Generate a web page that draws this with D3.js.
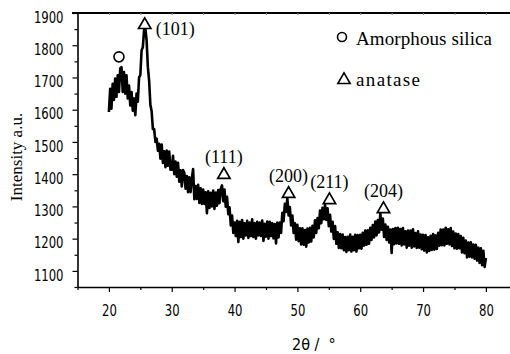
<!DOCTYPE html>
<html>
<head>
<meta charset="utf-8">
<script src="https://cdn.jsdelivr.net/npm/d3@7"></script>
<style>
  body { margin: 0; background: #fff; }
  svg { display: block; }
</style>
</head>
<body>
<svg id="chart" width="510" height="354"></svg>
<script>
// XRD scan: start angle and step (degrees 2θ)
const scanStart = 20;
const scanStep = 0.2;

// Measured intensity (a.u.), one value per step from 20.0° to 80.0°
const intensity = [
  1593, 1665, 1603, 1680, 1630, 1697, 1640, 1707, 1655, 1728,
  1732, 1655, 1717, 1650, 1707, 1635, 1675, 1613, 1655, 1597,
  1635, 1583, 1650, 1625, 1700, 1707, 1784, 1794, 1847, 1853,
  1815, 1732, 1690, 1615, 1595, 1540, 1540, 1500, 1510, 1473,
  1494, 1448, 1492, 1435, 1471, 1422, 1473, 1426, 1470, 1414,
  1414, 1457, 1400, 1439, 1392, 1435, 1377, 1412, 1362, 1413,
  1404, 1355, 1394, 1344, 1390, 1344, 1386, 1416, 1322, 1363,
  1323, 1367, 1311, 1356, 1308, 1352, 1308, 1344, 1279, 1347,
  1295, 1342, 1300, 1349, 1292, 1343, 1302, 1351, 1310, 1354,
  1365, 1316, 1352, 1299, 1330, 1276, 1297, 1241, 1272, 1218,
  1250, 1208, 1255, 1190, 1252, 1205, 1258, 1200, 1248, 1210,
  1255, 1202, 1250, 1208, 1260, 1205, 1248, 1200, 1252, 1210,
  1250, 1208, 1256, 1193, 1246, 1206, 1253, 1200, 1252, 1208,
  1248, 1201, 1245, 1185, 1250, 1204, 1250, 1218, 1280, 1254,
  1308, 1283, 1325, 1272, 1298, 1241, 1272, 1218, 1248, 1197,
  1243, 1192, 1232, 1182, 1232, 1181, 1227, 1175, 1231, 1188,
  1234, 1191, 1240, 1204, 1257, 1218, 1264, 1232, 1287, 1248,
  1296, 1260, 1305, 1258, 1294, 1239, 1274, 1222, 1252, 1199,
  1239, 1184, 1220, 1171, 1214, 1170, 1213, 1164, 1205, 1159,
  1206, 1164, 1213, 1160, 1206, 1164, 1212, 1160, 1211, 1170,
  1212, 1169, 1218, 1178, 1225, 1181, 1226, 1184, 1234, 1196,
  1242, 1204, 1253, 1210, 1258, 1219, 1280, 1228, 1262, 1205,
  1244, 1196, 1237, 1188, 1228, 1156, 1230, 1183, 1233, 1185,
  1234, 1184, 1230, 1179, 1233, 1182, 1223, 1172, 1225, 1178,
  1225, 1172, 1229, 1176, 1217, 1171, 1223, 1172, 1213, 1167,
  1212, 1163, 1211, 1157, 1204, 1162, 1209, 1165, 1214, 1166,
  1210, 1168, 1218, 1178, 1228, 1180, 1228, 1179, 1234, 1184,
  1229, 1182, 1233, 1177, 1222, 1170, 1216, 1169, 1214, 1170,
  1208, 1157, 1203, 1155, 1194, 1142, 1188, 1144, 1189, 1142,
  1182, 1138, 1181, 1132, 1172, 1125, 1170, 1118, 1162, 1112,
  1140
];

// Axis ticks
const xTicks = [20, 30, 40, 50, 60, 70, 80];
const xMinorTicks = [15, 25, 35, 45, 55, 65, 75, 85];
const yTicks = [1100, 1200, 1300, 1400, 1500, 1600, 1700, 1800, 1900];
const yMinorTicks = [1050, 1150, 1250, 1350, 1450, 1550, 1650, 1750, 1850];

// Anatase reflections: Miller indices, peak angle and marker level
const anataseLabels = ["(101)", "(111)", "(200)", "(211)", "(204)"];
const anataseAngles = [25.7, 38.3, 48.6, 55.1, 63.7];
const anataseMarkerLevels = [1866, 1401, 1342, 1323, 1295];

// Amorphous silica hump marker
const silicaAngle = [21.6];
const silicaMarkerLevel = [1764];

// Legend entries
const legendLabels = ["Amorphous silica", "anatase"];

const svg = d3.select("#chart");
const x = d3.scaleLinear().domain([15, 85]).range([77.5, 517.3]);
const y = d3.scaleLinear().domain([1050, 1900]).range([287, 13]);

const tickFont = "'Liberation Sans Narrow', 'DejaVu Sans Condensed', Arial, sans-serif";
const serif = "'Liberation Serif', 'Times New Roman', serif";
const fmt = d3.format("d");

// Frame: top border with small inward ticks
svg.append("line")
  .attr("x1", 72).attr("x2", 510).attr("y1", 13).attr("y2", 13)
  .attr("stroke", "#000").attr("stroke-width", 2);
const topAxis = svg.append("g").attr("transform", "translate(0,13)")
  .call(d3.axisTop(x).tickValues(d3.merge([xTicks, xMinorTicks.slice(1, -1)])).tickSize(-2).tickSizeOuter(0).tickFormat(""));
topAxis.select(".domain").remove();
topAxis.selectAll("line").attr("stroke", "#888").attr("stroke-width", 1);

// Bottom axis
const xAxis = svg.append("g").attr("transform", "translate(0,287)")
  .call(d3.axisBottom(x).tickValues(xTicks).tickFormat(fmt).tickSize(5).tickSizeOuter(0).tickPadding(13));
xAxis.select(".domain").attr("stroke-width", 1.6);
svg.append("g").attr("transform", "translate(0,287)")
  .call(d3.axisBottom(x).tickValues(xMinorTicks).tickSize(3).tickSizeOuter(0).tickFormat(""))
  .select(".domain").remove();

// Left axis
const yAxis = svg.append("g").attr("transform", "translate(77.5,0)")
  .call(d3.axisLeft(y).tickValues(yTicks).tickFormat(fmt).tickSize(5).tickSizeOuter(0).tickPadding(9));
yAxis.select(".domain").attr("stroke-width", 1.6);
yAxis.selectAll(".tick text").attr("y", 4);
svg.append("g").attr("transform", "translate(77.5,0)")
  .call(d3.axisLeft(y).tickValues(yMinorTicks).tickSize(3).tickSizeOuter(0).tickFormat(""))
  .select(".domain").remove();

svg.selectAll(".tick line").attr("stroke-width", 1.2);
svg.selectAll(".tick text")
  .attr("font-family", tickFont).attr("font-size", 16).attr("fill", "#000")
  .attr("textLength", function () { return this.textContent.length * 7.4; })
  .attr("lengthAdjust", "spacingAndGlyphs");

// Axis titles
svg.append("text")
  .attr("transform", "translate(22,157) rotate(-90)")
  .attr("text-anchor", "middle")
  .attr("font-family", serif).attr("font-size", 17)
  .text("Intensity a.u.");
svg.append("text")
  .attr("x", 292).attr("y", 350)
  .attr("font-family", tickFont).attr("font-size", 16)
  .attr("xml:space", "preserve")
  .text("2θ /  °");

// Diffraction pattern
const points = intensity.map((v, i) => [scanStart + i * scanStep, v]);
svg.append("path")
  .datum(points)
  .attr("fill", "none")
  .attr("stroke", "#000")
  .attr("stroke-width", 2.6)
  .attr("stroke-linejoin", "round")
  .attr("d", d3.line().x(d => x(d[0])).y(d => y(d[1])));

// Marker shapes
const triangle = d3.symbol().type(d3.symbolTriangle).size(66);

// Anatase markers and hkl labels
anataseAngles.forEach((a, i) => {
  const cx = x(a), cy = y(anataseMarkerLevels[i]);
  svg.append("path")
    .attr("d", triangle())
    .attr("transform", `translate(${cx},${cy + 1})`)
    .attr("fill", "#fff").attr("stroke", "#000").attr("stroke-width", 1.7);
  const first = i === 0;
  svg.append("text")
    .attr("x", first ? cx + 11 : cx)
    .attr("y", first ? cy + 11 : cy - 11)
    .attr("text-anchor", first ? "start" : "middle")
    .attr("font-family", serif).attr("font-size", 18)
    .text(anataseLabels[i]);
});

// Amorphous silica marker
svg.append("circle")
  .attr("cx", x(silicaAngle[0])).attr("cy", y(silicaMarkerLevel[0])).attr("r", 5)
  .attr("fill", "#fff").attr("stroke", "#000").attr("stroke-width", 1.6);

// Legend
svg.append("circle")
  .attr("cx", 342).attr("cy", 37).attr("r", 4.5)
  .attr("fill", "#fff").attr("stroke", "#000").attr("stroke-width", 1.6);
svg.append("path")
  .attr("d", triangle())
  .attr("transform", "translate(344,80)")
  .attr("fill", "#fff").attr("stroke", "#000").attr("stroke-width", 1.6);
svg.append("text")
  .attr("x", 356).attr("y", 45)
  .attr("font-family", serif).attr("font-size", 19)
  .attr("textLength", 136).attr("lengthAdjust", "spacing")
  .text(legendLabels[0]);
svg.append("text")
  .attr("x", 356).attr("y", 86)
  .attr("font-family", serif).attr("font-size", 19)
  .attr("textLength", 64).attr("lengthAdjust", "spacing")
  .text(legendLabels[1]);
</script>
</body>
</html>
